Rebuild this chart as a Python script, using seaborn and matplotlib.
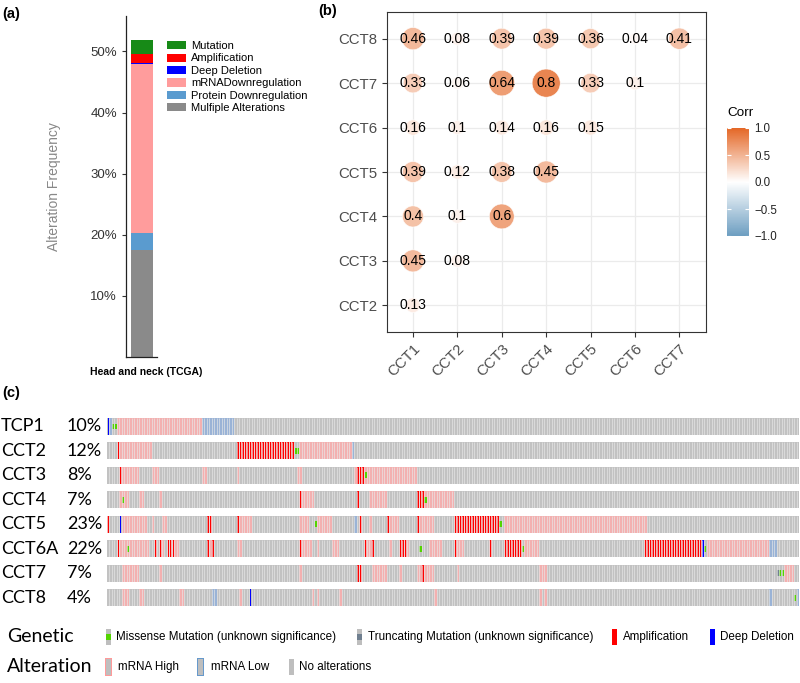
import numpy as np
import pandas as pd
import matplotlib
matplotlib.use('Agg')
import matplotlib.pyplot as plt
import seaborn as sns
from matplotlib.colors import ListedColormap, LinearSegmentedColormap, Normalize
from matplotlib.patches import Patch, Rectangle
from matplotlib.cm import ScalarMappable

# ---------------- data ----------------
# (a) alteration frequency (%) in head and neck (TCGA)
a_labels = ['Mutation', 'Amplification', 'Deep Deletion', 'mRNADownregulation',
            'Protein Downregulation', 'Mulfiple Alterations']
a_values = [2.4, 1.4, 0.25, 27.6, 2.8, 17.5]
a_colors = ['#178a17', '#ff0000', '#0000ff', '#ff9c9c', '#5a9bcf', '#8a8a8a']

# (b) correlation matrix (lower triangle)
b_cols = ['CCT1', 'CCT2', 'CCT3', 'CCT4', 'CCT5', 'CCT6', 'CCT7']
b_rows = ['CCT2', 'CCT3', 'CCT4', 'CCT5', 'CCT6', 'CCT7', 'CCT8']
corr_cct2 = [0.13]
corr_cct3 = [0.45, 0.08]
corr_cct4 = [0.4, 0.1, 0.6]
corr_cct5 = [0.39, 0.12, 0.38, 0.45]
corr_cct6 = [0.16, 0.1, 0.14, 0.16, 0.15]
corr_cct7 = [0.33, 0.06, 0.64, 0.8, 0.33, 0.1]
corr_cct8 = [0.46, 0.08, 0.39, 0.39, 0.36, 0.04, 0.41]

# (c) oncoprint, altered samples only
genes = ['TCP1', 'CCT2', 'CCT3', 'CCT4', 'CCT5', 'CCT6A', 'CCT7', 'CCT8']
gene_pct = ['10%', '12%', '8%', '7%', '23%', '22%', '7%', '4%']
n_samples = 277
# runs of samples: (first, last, kind)  H=mRNA high, L=mRNA low, A=amplification, D=deep deletion
tcp1_runs = [(0, 0, 'D'), (1, 1, 'L'), (4, 37, 'H'), (38, 50, 'L')]
cct2_runs = [(4, 4, 'A'), (5, 17, 'H'), (52, 74, 'A'), (77, 97, 'H'), (98, 98, 'L')]
cct3_runs = [(5, 5, 'A'), (6, 12, 'H'), (18, 20, 'H'), (38, 39, 'H'), (52, 52, 'H'),
             (76, 77, 'H'), (99, 99, 'H'), (100, 102, 'A'), (103, 123, 'H')]
cct4_runs = [(5, 8, 'H'), (13, 14, 'H'), (21, 21, 'H'), (77, 77, 'A'), (78, 82, 'H'),
             (100, 100, 'A'), (105, 111, 'H'), (124, 126, 'A'), (127, 138, 'H')]
cct5_runs = [(0, 0, 'A'), (5, 5, 'D'), (6, 15, 'H'), (18, 18, 'H'), (22, 23, 'H'),
             (40, 41, 'A'), (52, 52, 'A'), (53, 57, 'H'), (77, 80, 'H'), (84, 89, 'H'),
             (99, 99, 'L'), (101, 101, 'A'), (105, 105, 'H'), (112, 112, 'A'),
             (113, 116, 'H'), (124, 124, 'A'), (125, 130, 'H'), (139, 156, 'A'),
             (159, 215, 'H')]
cct6a_runs = [(4, 4, 'A'), (5, 16, 'H'), (19, 19, 'A'), (21, 21, 'A'), (22, 22, 'H'),
              (24, 26, 'A'), (27, 28, 'H'), (40, 40, 'A'), (41, 41, 'H'), (42, 42, 'A'),
              (52, 53, 'H'), (77, 77, 'A'), (78, 81, 'H'), (84, 84, 'H'), (90, 92, 'H'),
              (103, 103, 'A'), (104, 105, 'H'), (106, 106, 'A'), (113, 113, 'H'),
              (117, 119, 'A'), (120, 120, 'H'), (129, 133, 'H'), (139, 139, 'A'),
              (140, 142, 'H'), (153, 153, 'A'), (159, 165, 'A'), (167, 172, 'H'),
              (215, 237, 'A'), (238, 238, 'D'), (240, 264, 'H'), (265, 267, 'L')]
cct7_runs = [(6, 12, 'H'), (21, 21, 'H'), (77, 77, 'H'), (100, 101, 'A'), (106, 111, 'H'),
             (117, 117, 'H'), (124, 125, 'H'), (126, 126, 'A'), (127, 130, 'H'),
             (140, 140, 'H'), (173, 175, 'H'), (271, 274, 'H')]
cct8_runs = [(6, 8, 'H'), (13, 14, 'H'), (29, 30, 'H'), (42, 43, 'L'), (53, 53, 'H'),
             (57, 57, 'D'), (82, 82, 'H'), (84, 84, 'H'), (93, 93, 'H'), (131, 131, 'H'),
             (173, 173, 'H'), (175, 175, 'H'), (265, 265, 'L'), (276, 276, 'L')]
# missense / truncating mutations (sample index)
tcp1_mis = [2, 3]
cct2_mis = [75, 76]
cct3_mis = [103]
cct4_mis = [6, 127]
cct5_mis = [83, 157]
cct6a_mis = [8, 125, 166, 239]
cct7_mis = [269, 270]
cct8_mis = [275]
cct7_trunc = [268]

all_runs = [tcp1_runs, cct2_runs, cct3_runs, cct4_runs, cct5_runs, cct6a_runs, cct7_runs, cct8_runs]
all_mis = [tcp1_mis, cct2_mis, cct3_mis, cct4_mis, cct5_mis, cct6a_mis, cct7_mis, cct8_mis]
all_trunc = [[], [], [], [], [], [], cct7_trunc, []]

# ---------------- figure ----------------
W, H = 800, 683
plt.rcParams['font.family'] = ['Liberation Sans', 'DejaVu Sans']
fig = plt.figure(figsize=(W / 100, H / 100), dpi=100)


def box(l, t, r, b):
    # pixel box -> figure fraction
    return [l / W, 1 - b / H, (r - l) / W, (b - t) / H]


# ===== (a) =====
ax_a = fig.add_axes(box(126, 16, 157, 357))
bottom = 0
for lab, val, col in reversed(list(zip(a_labels, a_values, a_colors))):
    ax_a.bar(0, val, bottom=bottom, width=0.74, color=col, linewidth=0)
    bottom += val
ax_a.set_xlim(-0.55, 0.5)
ax_a.set_ylim(0, 55.8)
ax_a.set_yticks([10, 20, 30, 40, 50])
ax_a.set_yticklabels(['10%', '20%', '30%', '40%', '50%'])
ax_a.set_xticks([])
ax_a.tick_params(axis='y', labelsize=9.5, labelcolor='#333333', length=3, color='#333333')
for s in ['top', 'right']:
    ax_a.spines[s].set_visible(False)
for s in ['left', 'bottom']:
    ax_a.spines[s].set_color('#222222')
    ax_a.spines[s].set_linewidth(0.9)
ax_a.set_ylabel('Alteration Frequency', fontsize=10, color='#888888', labelpad=21)
fig.text(146 / W, 1 - 372 / H, 'Head and neck (TCGA)', ha='center', va='center',
         fontsize=7.5, fontweight='bold')
handles = [Patch(facecolor=c, edgecolor='none') for c in a_colors]
ax_a.legend(handles, a_labels, loc='upper left', bbox_to_anchor=(167 / W, 1 - 41 / H),
            bbox_transform=fig.transFigure, frameon=False, fontsize=8,
            handlelength=1.75, handleheight=0.75, handletextpad=0.4,
            labelspacing=0.22, borderpad=0, borderaxespad=0)

# ===== (b) =====
corr_rows = [corr_cct2, corr_cct3, corr_cct4, corr_cct5, corr_cct6, corr_cct7, corr_cct8]
recs = []
for j, (rname, vals) in enumerate(zip(b_rows, corr_rows)):
    for i, v in enumerate(vals):
        recs.append({'x': i + 1, 'y': j + 1, 'corr': v, 'abs': abs(v)})
df_b = pd.DataFrame(recs)

corr_cmap = LinearSegmentedColormap.from_list('corr', ['#6D9EC1', '#ffffff', '#E46726'])
ax_b = fig.add_axes(box(387, 12, 706, 332))
sns.scatterplot(data=df_b, x='x', y='y', hue='corr', size='abs', palette=corr_cmap,
                hue_norm=Normalize(-1, 1), sizes=(70, 410), size_norm=(0.04, 0.8),
                edgecolor='white', linewidth=0.4, legend=False, ax=ax_b, zorder=3)
for _, r in df_b.iterrows():
    ax_b.text(r['x'], r['y'], f"{r['corr']:g}", ha='center', va='center',
              fontsize=10, color='black', zorder=4)
ax_b.set_xlim(0.415, 7.6)
ax_b.set_ylim(0.4, 7.6)
ax_b.set_xticks(range(1, 8))
ax_b.set_xticklabels(b_cols, rotation=45, ha='right', va='top', rotation_mode='anchor')
ax_b.set_yticks(range(1, 8))
ax_b.set_yticklabels(b_rows)
ax_b.set_xlabel('')
ax_b.set_ylabel('')
ax_b.tick_params(labelsize=10.8, labelcolor='#4d4d4d', length=3.5, color='#333333', width=0.8)
ax_b.grid(True, color='#ebebeb', linewidth=0.9, zorder=0)
ax_b.set_axisbelow(True)
for s in ax_b.spines.values():
    s.set_color('#333333')
    s.set_linewidth(0.8)

ax_cb = fig.add_axes(box(727, 128, 749, 236))
cb = fig.colorbar(ScalarMappable(norm=Normalize(-1, 1), cmap=corr_cmap), cax=ax_cb)
cb.set_ticks([-1, -0.5, 0, 0.5, 1])
cb.set_ticklabels(['\u22121.0', '\u22120.5', '0.0', '0.5', '1.0'])
cb.outline.set_visible(False)
ax_cb.tick_params(direction='in', color='white', length=3, width=0.8, labelsize=8.3,
                  labelcolor='#222222', left=True, right=True, pad=4)
fig.text(727 / W, 1 - 113 / H, 'Corr', fontsize=9.7, va='center', ha='left')

# ===== (c) =====
base_cmap = ListedColormap(['#c2c2c2', '#f3b0b0', '#9ab3d6'])
kind_code = {'H': 1, 'L': 2, 'A': 1, 'D': 0}
row_top0, row_pitch, row_h = 418, 24.47, 16.8
for g, (gene, pct, runs, mis, trunc) in enumerate(zip(genes, gene_pct, all_runs, all_mis, all_trunc)):
    top = row_top0 + g * row_pitch
    ax = fig.add_axes(box(107, top, 799, top + row_h))
    base = np.zeros(n_samples)
    amp, dele = [], []
    for s0, s1, k in runs:
        base[s0:s1 + 1] = kind_code[k]
        if k == 'A':
            amp += list(range(s0, s1 + 1))
        if k == 'D':
            dele += list(range(s0, s1 + 1))
    sns.heatmap(base[np.newaxis, :], ax=ax, cmap=base_cmap, vmin=-0.5, vmax=2.5, cbar=False,
                xticklabels=False, yticklabels=False)
    if amp:
        ax.bar(np.array(amp) + 0.5, 1, bottom=0, width=0.55, color='#ff0000', linewidth=0)
    if dele:
        ax.bar(np.array(dele) + 0.5, 1, bottom=0, width=0.55, color='#0000ff', linewidth=0)
    # thin light separators between samples
    ax.vlines(np.arange(1, n_samples), 0, 1, color='#e8e8e8', linewidth=0.45)
    if mis:
        ax.bar(np.array(mis) + 0.5, 0.34, bottom=0.33, width=0.85, color='#53d400', linewidth=0)
    if trunc:
        ax.bar(np.array(trunc) + 0.5, 0.34, bottom=0.33, width=0.85, color='#708090', linewidth=0)
    ax.set_xlim(0, n_samples)
    ax.set_ylim(1, 0)
    ax.axis('off')
    yc = 1 - (top + row_h / 2) / H
    fig.text(1 / W, yc, gene, fontsize=13, va='center', ha='left', family=['Lato', 'DejaVu Sans'])
    fig.text(67 / W, yc, pct, fontsize=13, va='center', ha='left', family=['Lato', 'DejaVu Sans'])

# legend of (c)
ax_l = fig.add_axes([0, 0, 1, 1], zorder=-1)
ax_l.set_xlim(0, W)
ax_l.set_ylim(H, 0)
ax_l.axis('off')
calib = ['Lato', 'DejaVu Sans']
narrow = ['Liberation Sans Narrow', 'Liberation Sans', 'DejaVu Sans']
fs_leg = 8.4
fig.text(7 / W, 1 - 637 / H, 'Genetic', fontsize=14, va='center', family=calib)
fig.text(7 / W, 1 - 667 / H, 'Alteration', fontsize=14, va='center', family=calib)
gh = 16


def glyph(x, yc, fill='#bebebe', inner=None, border=None, w=5):
    if border:
        ax_l.add_patch(Rectangle((x - 1, yc - gh / 2 - 1), w + 2, gh + 2, color=border, lw=0))
    ax_l.add_patch(Rectangle((x, yc - gh / 2), w, gh, color=fill, lw=0))
    if inner:
        ax_l.add_patch(Rectangle((x, yc - gh / 6), w, gh / 3, color=inner, lw=0))


glyph(106, 637, inner='#53d400')
fig.text(116 / W, 1 - 637 / H, 'Missense Mutation (unknown significance)', fontsize=fs_leg, va='center', family=narrow)
glyph(357, 637, inner='#708090')
fig.text(368 / W, 1 - 637 / H, 'Truncating Mutation (unknown significance)', fontsize=fs_leg, va='center', family=narrow)
glyph(612, 637, fill='#ff0000')
fig.text(623 / W, 1 - 637 / H, 'Amplification', fontsize=fs_leg, va='center', family=narrow)
glyph(710, 637, fill='#0000ff')
fig.text(720 / W, 1 - 637 / H, 'Deep Deletion', fontsize=fs_leg, va='center', family=narrow)
glyph(106, 667, border='#ff9999')
fig.text(118 / W, 1 - 667 / H, 'mRNA High', fontsize=fs_leg, va='center', family=narrow)
glyph(198, 667, border='#6699cc')
fig.text(211 / W, 1 - 667 / H, 'mRNA Low', fontsize=fs_leg, va='center', family=narrow)
glyph(289, 667)
fig.text(299 / W, 1 - 667 / H, 'No alterations', fontsize=fs_leg, va='center', family=narrow)

# panel tags
fig.text(2 / W, 1 - 14 / H, '(a)', fontsize=10.5, fontweight='bold', va='center')
fig.text(318 / W, 1 - 11 / H, '(b)', fontsize=10.5, fontweight='bold', va='center')
fig.text(2 / W, 1 - 393 / H, '(c)', fontsize=10.5, fontweight='bold', va='center')

fig.savefig('out.png', dpi=100)
